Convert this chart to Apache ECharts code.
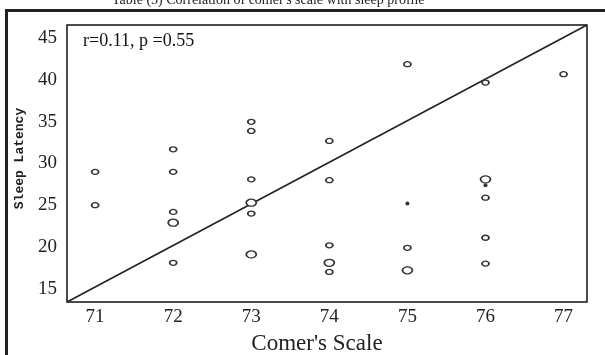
<!DOCTYPE html>
<html>
<head>
<meta charset="utf-8">
<script src="https://cdn.jsdelivr.net/npm/echarts@6/dist/echarts.min.js"></script>
<style>
  html, body { margin: 0; padding: 0; background: #fff; }
  #chart { width: 605px; height: 355px; }
</style>
</head>
<body>
<div id="chart"></div>
<script>
// tick labels
const scaleTicks = [71, 72, 73, 74, 75, 76, 77];
const latencyTicks = [15, 20, 25, 30, 35, 40, 45];

// points: [comer's scale, sleep latency]
const smallPts = [
  [71, 29], [71, 25],
  [72, 31.7], [72, 29], [72, 24.2], [72, 18.1],
  [73, 35], [73, 33.9], [73, 28.1], [73, 24],
  [74, 32.7], [74, 28], [74, 20.2], [74, 17],
  [75, 41.9], [75, 19.9],
  [76, 39.7], [76, 25.9], [76, 21.1], [76, 18],
  [77, 40.7]
];
const largePts = [
  [72, 22.9], [73, 25.3], [73, 19.1], [74, 18.1], [75, 17.2], [76, 28.1]
];
const dotPts = [
  [75, 25.2], [76, 27.4]
];

// diagonal line, corner to corner
const fitLine = [[70.64, 13.4], [77.3, 46.6]];

const corrText = 'r=0.11, p =0.55';
const titleText = "Table (5) Correlation of comer's scale with sleep profile";

const serif = '"Liberation Serif", "DejaVu Serif", serif';
const ink = '#333';

const chart = echarts.init(document.getElementById('chart'));
chart.setOption({
  animation: false,
  title: {
    text: titleText,
    left: 107,
    top: -12,
    textStyle: { fontFamily: serif, fontSize: 14, fontWeight: 'normal', color: '#222' }
  },
  grid: {
    left: 67, right: 18, top: 25, bottom: 53,
    outerBoundsMode: 'none',
    show: true, borderColor: '#111', borderWidth: 1.5
  },
  xAxis: {
    type: 'value',
    min: fitLine[0][0],
    max: fitLine[1][0],
    name: "Comer's Scale",
    nameLocation: 'middle',
    nameGap: 30,
    nameTextStyle: { fontFamily: serif, fontSize: 23, color: '#222', padding: [0, 20, 0, 0] },
    axisLine: { show: false },
    axisTick: { show: false },
    splitLine: { show: false },
    axisLabel: {
      customValues: scaleTicks,
      margin: 6,
      fontFamily: serif, fontSize: 19, color: '#222'
    }
  },
  yAxis: {
    type: 'value',
    min: fitLine[0][1],
    max: fitLine[1][1],
    name: 'Sleep Latency',
    nameLocation: 'middle',
    nameRotate: 90,
    nameGap: 41,
    nameTextStyle: { fontFamily: '"Liberation Mono", "DejaVu Sans Mono", monospace', fontSize: 13, fontWeight: 'bold', color: '#222', padding: [0, 0, 0, 10] },
    axisLine: { show: false },
    axisTick: { show: false },
    splitLine: { show: false },
    axisLabel: {
      customValues: latencyTicks,
      margin: 10,
      fontFamily: serif, fontSize: 19, color: '#222'
    }
  },
  graphic: [
    { type: 'rect', silent: true, shape: { x: 5, y: 9, width: 3, height: 360 }, style: { fill: '#222' } },
    { type: 'rect', silent: true, shape: { x: 5, y: 9, width: 610, height: 3 }, style: { fill: '#222' } },
    {
      type: 'text', left: 83, top: 32,
      style: { text: corrText, font: '18px ' + serif, fill: '#111' }
    }
  ],
  series: [
    {
      type: 'line',
      data: fitLine,
      symbol: 'none',
      lineStyle: { color: '#222', width: 1.6 },
      z: 2
    },
    {
      type: 'scatter',
      data: smallPts,
      symbol: 'circle',
      symbolSize: [7, 5],
      itemStyle: { color: '#fff', borderColor: ink, borderWidth: 1.5, opacity: 1 },
      z: 3
    },
    {
      type: 'scatter',
      data: largePts,
      symbol: 'circle',
      symbolSize: [10, 7],
      itemStyle: { color: '#fff', borderColor: ink, borderWidth: 1.5, opacity: 1 },
      z: 3
    },
    {
      type: 'scatter',
      data: dotPts,
      symbol: 'circle',
      symbolSize: 4,
      itemStyle: { color: ink, opacity: 1 },
      z: 3
    }
  ]
});
</script>
</body>
</html>
